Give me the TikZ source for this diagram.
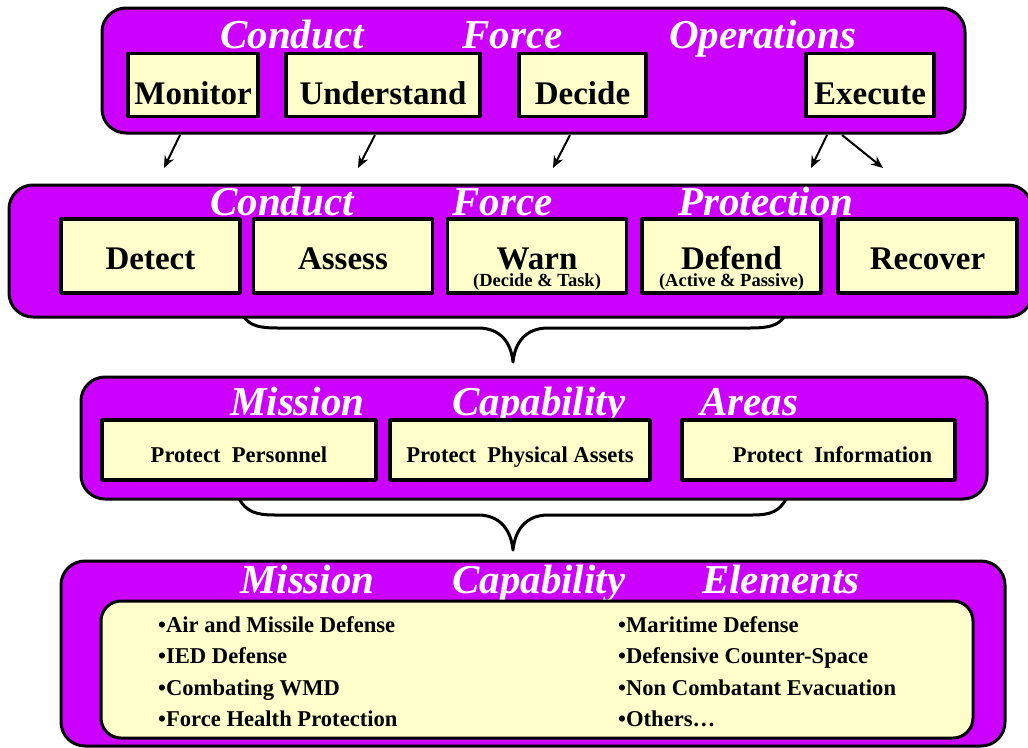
\documentclass[tikz,border=0pt]{standalone}
\usepackage{fontspec}
\setmainfont{Liberation Serif}
\usetikzlibrary{arrows.meta,positioning}
\definecolor{panelpurple}{HTML}{CC00FF}
\definecolor{boxyellow}{HTML}{FFFFCC}
\begin{document}
\begin{tikzpicture}[x=1pt,y=-1pt,line join=round,>={Stealth[length=12pt,width=10pt]},font=\bfseries]
	\tikzset{panel/.style={draw,line width=3pt,fill=panelpurple,rounded corners=24pt,inner sep=0pt},
		ptitle/.style={anchor=base west,text=white,inner sep=0pt,font=\fontsize{41}{41}\selectfont\bfseries\itshape},
		box/.style={draw,line width=3.5pt,fill=boxyellow,inner sep=0pt,text depth=0pt},
		boxa/.style={box,minimum height=63pt,text height=39pt,font=\fontsize{33}{33}\selectfont\bfseries},
		boxb/.style={box,minimum width=179pt,minimum height=74pt,text height=26pt,font=\fontsize{33}{33}\selectfont\bfseries},
		boxc/.style={box,minimum height=60pt,text height=25pt,font=\fontsize{22.6}{22.6}\selectfont\bfseries},
		subtxt/.style={inner sep=0pt,font=\fontsize{18.5}{18.5}\selectfont\bfseries},
		item/.style={anchor=base west,inner sep=0pt,font=\fontsize{22.6}{22.6}\selectfont\bfseries},
		brace/.style={draw,line width=3pt},
		arr/.style={->,line width=2pt}}
	\useasboundingbox (0,0) rectangle (1028,747);
	% braces behind the panels
	\draw[brace] (243,316) .. controls (250,326) and (260,328) .. (278,328) -- (478,328)
		.. controls (500,328) and (511,342) .. (513,362) .. controls (515,342) and (526,328) .. (548,328)
		-- (750,328) .. controls (768,328) and (778,326) .. (785,316);
	\draw[brace] (238,497) .. controls (246,512) and (256,515) .. (275,515) -- (478,515)
		.. controls (500,515) and (511,530) .. (513,550) .. controls (515,530) and (526,515) .. (548,515)
		-- (752,515) .. controls (770,515) and (780,512) .. (787,497);
	% panels
	\node[panel,minimum width=863pt,minimum height=125pt] (ops) at (533.5,70.5) {};
	\node[panel,minimum width=1023pt,minimum height=132pt] (fp) at (520.5,251) {};
	\node[panel,minimum width=906pt,minimum height=122pt] (mca) at (534,438) {};
	\node[panel,minimum width=944pt,minimum height=185pt] (mce) at (533,653.5) {};
	% titles
	\foreach \w/\x [count=\i] in {Conduct/220,Force/462,Operations/669}
		\node[ptitle] (opst\i) at (\x,48) {\w};
	\foreach \w/\x [count=\i] in {Conduct/210,Force/452,Protection/678}
		\node[ptitle] (fpt\i) at (\x,215) {\w};
	\foreach \w/\x [count=\i] in {Mission/230,Capability/452,Areas/700}
		\node[ptitle] (mcat\i) at (\x,415) {\w};
	\foreach \w/\x [count=\i] in {Mission/240,Capability/452,Elements/702}
		\node[ptitle] (mcet\i) at (\x,593) {\w};
	% force operations
	\foreach \nm/\x/\bw/\txt in {mon/193/130/Monitor,und/383/194/Understand,dec/582.5/127/Decide,exe/870/128/Execute}
		\node[boxa,minimum width=\bw pt] (\nm) at (\x,85) {\txt};
	% force protection
	\foreach \nm/\x/\txt in {det/150.5/Detect,ass/343/Assess,warn/537/Warn,def/731.5/Defend,rec/927.5/Recover}
		\node[boxb] (\nm) at (\x,256) {\txt};
	\node[subtxt,above=4pt of warn.south] (warnsub) {(Decide \& Task)};
	\node[subtxt,above=4pt of def.south] (defsub) {(Active \& Passive)};
	% mission capability areas
	\node[boxc,minimum width=274pt] (per) at (239,450) {Protect\ \ Personnel};
	\node[boxc,minimum width=260pt] (phy) at (520,450) {Protect\ \ Physical Assets};
	\node[boxc,minimum width=273pt] (inf) at (818.5,450) {\hspace*{28pt}Protect\ \ Information};
	% mission capability elements
	\node[box,line width=3pt,rounded corners=20pt,minimum width=872pt,minimum height=137pt] (elem) at (537,669.5) {};
	\foreach \txt/\y [count=\i] in {Air and Missile Defense/632,IED Defense/663,Combating WMD/695,Force Health Protection/726}
		\node[item] (l\i) at (158,\y) {•\txt};
	\foreach \txt/\y [count=\i] in {Maritime Defense/632,Defensive Counter-Space/663,Non Combatant Evacuation/695,Others…/726}
		\node[item] (r\i) at (618,\y) {•\txt};
	% arrows between the two conduct panels
	\foreach \sx/\ex [count=\i] in {180/164,375/358,570/553,827/811,842/883}{
		\coordinate (s\i) at (\sx,135);
		\coordinate (t\i) at (\ex,168);
		\draw[arr] (s\i) -- (t\i);}
\end{tikzpicture}
\end{document}
